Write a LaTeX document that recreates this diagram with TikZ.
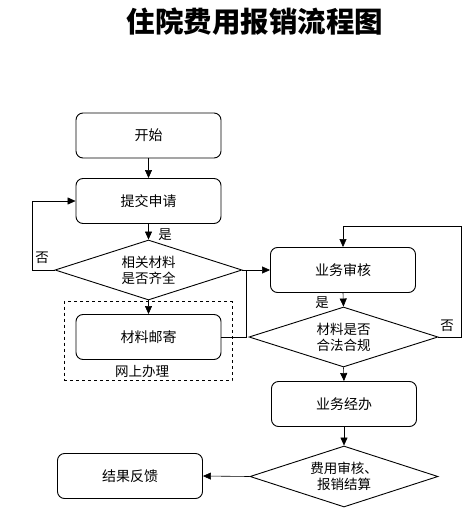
\documentclass[tikz,border=0pt]{standalone}
\usepackage{fontspec}
\setmainfont{Noto Sans CJK SC}
\usetikzlibrary{shapes.geometric,arrows.meta}
\begin{document}
\begin{tikzpicture}[x=1pt,y=-1pt,
  every node/.style={font=\fontsize{14}{17}\selectfont},
  stepbox/.style={draw,line width=0.9pt,rounded corners=7pt,minimum width=145pt,minimum height=45pt,inner sep=0pt},
  decision/.style={draw,line width=0.9pt,diamond,aspect=3.2,inner sep=0pt,align=center,font=\fontsize{13.5}{16}\selectfont},
  conn/.style={line width=0.6pt},
  arr/.style={conn,-{Triangle[length=8pt,width=7pt]}},
  lbl/.style={font=\fontsize{13.5}{16}\selectfont}]
\useasboundingbox (0,0) rectangle (476,525);
\node[font=\fontsize{28.5}{31}\selectfont\bfseries] (title) at (255,22) {住院费用报销流程图};
\node[stepbox] (start) at (148.5,135.5) {开始};
\node[stepbox] (submit) at (148.5,201) {提交申请};
\node[decision,minimum width=187pt,minimum height=60pt] (d1) at (148.5,270) {相关材料\\是否齐全};
\node[draw,dashed,line width=0.7pt,minimum width=168pt,minimum height=79pt,inner sep=0pt] (online) at (148,341) {};
\node[stepbox] (mail) at (148.5,337) {材料邮寄};
\node[lbl] (onlinelbl) at (142,371) {网上办理};
\node[stepbox] (review) at (343,270) {业务审核};
\node[decision,minimum width=189pt,minimum height=60pt] (d2) at (343.5,337) {材料是否\\合法合规};
\node[stepbox] (handle) at (344,404) {业务经办};
\node[decision,minimum width=188pt,minimum height=61pt] (d3) at (344,476.5) {费用审核、\\报销结算};
\node[stepbox] (result) at (130,476) {结果反馈};
\coordinate (j1) at (246,270);
\coordinate (l1) at (32,270);
\coordinate (l2) at (32,201);
\coordinate (r1) at (461,337);
\coordinate (r2) at (461,226);
\coordinate (r3) at (343,226);
% connectors
\draw[arr] (start) -- (submit);
\draw[arr] (submit) -- (d1.north);
\node[lbl] (yes1) at (165,235) {是};
\draw[conn] (d1.west) -- (l1) -- (l2);
\draw[arr] (l2) -- (submit.west);
\node[lbl] (no1) at (42,258) {否};
\draw[arr] (d1.south) -- (mail.north);
\draw[conn] (d1.east) -- (j1);
\draw[conn] (mail.east) -| (j1);
\draw[arr] (j1) -- (review.west);
\draw[arr] (review.south) -- (d2.north);
\node[lbl] (yes2) at (322,303) {是};
\draw[conn] (d2.east) -- (r1) -- (r2) -- (r3);
\draw[arr] (r3) -- (review.north);
\node[lbl] (no2) at (447,326) {否};
\draw[arr] (d2.south) -- (handle.north);
\draw[arr] (handle.south) -- (d3.north);
\draw[arr] (d3.west) -- (result.east);
\end{tikzpicture}
\end{document}
